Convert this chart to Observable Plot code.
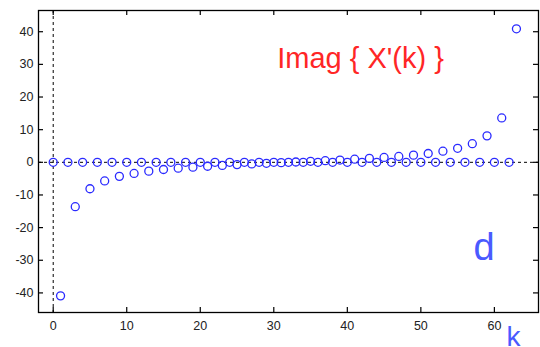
<!DOCTYPE html>
<html>
<head>
<meta charset="utf-8">
<script src="https://cdn.jsdelivr.net/npm/d3@7"></script>
<script src="https://cdn.jsdelivr.net/npm/@observablehq/plot@0.6"></script>
<style>
  html, body { margin: 0; padding: 0; background: #fff; }
  #chart { width: 540px; height: 347px; }
</style>
</head>
<body>
<div id="chart"></div>
<script>
// Imag{X'(k)} values, k = 0..63 (even k are zero)
const imagValues = [
  0, -40.9, 0, -13.6, 0, -8.1, 0, -5.7, 0, -4.3, 0, -3.4, 0, -2.7, 0, -2.2,
  0, -1.8, 0, -1.5, 0, -1.2, 0, -0.95, 0, -0.7, 0, -0.5, 0, -0.3, 0, -0.1,
  0, 0.1, 0, 0.3, 0, 0.5, 0, 0.7, 0, 0.95, 0, 1.2, 0, 1.5, 0, 1.8,
  0, 2.2, 0, 2.7, 0, 3.4, 0, 4.3, 0, 5.7, 0, 8.1, 0, 13.6, 0, 40.9
];
const xTicks = [0, 10, 20, 30, 40, 50, 60];
const yTicks = [-40, -30, -20, -10, 0, 10, 20, 30, 40];
const titleText = "Imag { X'(k) }";
const panelLabel = "d";
const xLabel = "k";

const data = imagValues.map((v, i) => ({k: i, v}));

const font = "Liberation Sans, Arial, sans-serif";
const W = 540, H = 347, mL = 38, mR = 2, mT = 10, mB = 35;
const innerW = W - mL - mR, innerH = H - mT - mB, tickLen = 5;
const xDom = [-2, 66], yDom = [-46, 46.5];
const xTickLen = tickLen * (xDom[1] - xDom[0]) / innerW;   // in x units
const yTickLen = tickLen * (yDom[1] - yDom[0]) / innerH;   // in y units
const fmt = d => String(d);

const chart = Plot.plot({
  width: W,
  height: H,
  marginLeft: mL,
  marginRight: mR,
  marginTop: mT,
  marginBottom: mB,
  style: {fontFamily: font, fontSize: "12.5px", color: "#222", background: "#fff", overflow: "visible"},
  x: {domain: xDom},
  y: {domain: yDom},
  marks: [
    Plot.ruleY([0], {stroke: "#000", strokeWidth: 1, strokeDasharray: "3,3"}),
    Plot.ruleX([0], {stroke: "#000", strokeWidth: 1, strokeDasharray: "3,3"}),
    // tick labels
    Plot.axisX({anchor: "bottom", ticks: xTicks, tickSize: 0, tickPadding: 9, tickFormat: fmt, label: null, fill: "#222"}),
    Plot.axisY({anchor: "left", ticks: yTicks, tickSize: 0, tickPadding: 5, tickFormat: fmt, label: null, fill: "#222"}),
    // inward ticks on all sides
    Plot.ruleX(xTicks, {x: d => d, y1: yDom[0], y2: yDom[0] + yTickLen, stroke: "#000", strokeWidth: 1.2}),
    Plot.ruleX(xTicks, {x: d => d, y1: yDom[1], y2: yDom[1] - yTickLen, stroke: "#000", strokeWidth: 1.2}),
    Plot.ruleY(yTicks, {y: d => d, x1: xDom[0], x2: xDom[0] + xTickLen, stroke: "#000", strokeWidth: 1.2}),
    Plot.ruleY(yTicks, {y: d => d, x1: xDom[1], x2: xDom[1] - xTickLen, stroke: "#000", strokeWidth: 1.2}),
    Plot.frame({stroke: "#000", strokeWidth: 1.3}),
    Plot.dot(data, {x: "k", y: "v", r: 4, stroke: "#2a2aff", strokeWidth: 1.3, fill: "none"}),
    Plot.text([titleText], {x: 41.8, y: 29, text: d => d, fill: "#ff2626", fontSize: 29, textAnchor: "middle", lineAnchor: "bottom", fontFamily: font}),
    Plot.text([panelLabel], {x: 58.6, y: -30, text: d => d, fill: "#4a5aff", fontSize: 38, textAnchor: "middle", lineAnchor: "bottom", fontFamily: font}),
    Plot.text([xLabel], {x: 62.6, frameAnchor: "bottom", dy: 33, text: d => d, fill: "#4a5aff", fontSize: 28, textAnchor: "middle", lineAnchor: "bottom", fontFamily: font})
  ]
});
document.getElementById("chart").appendChild(chart);
</script>
</body>
</html>
